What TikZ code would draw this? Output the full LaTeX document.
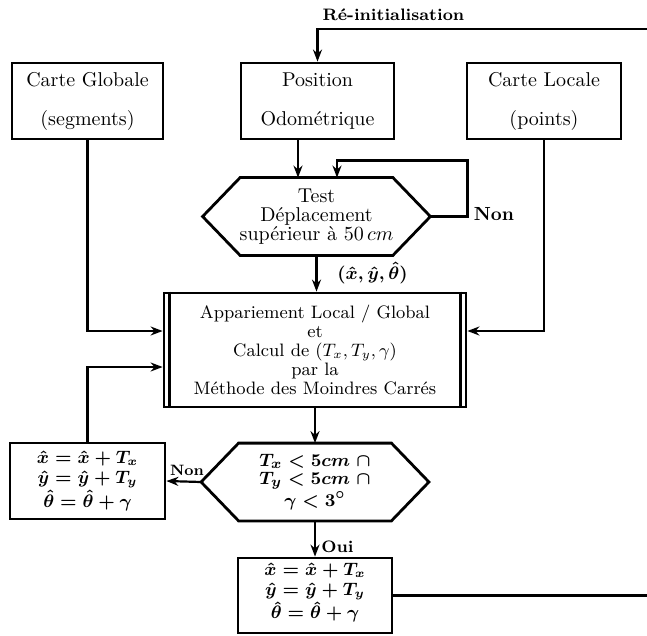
\documentclass[tikz,border=0pt]{standalone}
\usetikzlibrary{calc,arrows.meta}
\begin{document}
\begin{tikzpicture}[x=0.5pt,y=-0.5pt,
  box/.style={draw,line width=1.4pt,inner sep=0pt,align=center,font=\fontsize{10}{12}\selectfont},
  conn/.style={line width=1.1pt},
  arr/.style={conn,-{Stealth[length=6pt,width=4.5pt]}},
  lbl/.style={font=\fontsize{8.3}{10}\selectfont\bfseries,inner sep=0pt},
  hexa/.style={inner sep=0pt,align=center,minimum width=113.5pt,minimum height=38.5pt,font=\fontsize{10}{9.5}\selectfont},
  hexline/.style={line width=1.4pt,line join=miter},
  formula/.style={box,font=\fontsize{9.2}{10}\selectfont\boldmath},
  formtext/.style={inner sep=0pt,align=center,font=\fontsize{9.2}{10}\selectfont\boldmath}]
\useasboundingbox (0,0) rectangle (647,636);

% top boxes
\node[box,minimum width=75.5pt,minimum height=38pt] (cg) at (87.5,101) {Carte Globale\\[7.5pt](segments)};
\node[box,minimum width=76.5pt,minimum height=38pt] (pos) at (317.5,101) {Position\\[7.5pt]Odom\'etrique};
\node[box,minimum width=77pt,minimum height=38pt] (cl) at (544,101) {Carte Locale\\[7.5pt](points)};

% test hexagon 1
\node[hexa] (t1) at (316.5,216.5) {Test\\D\'eplacement\\sup\'erieur \`a 50\,$cm$};
\draw[hexline] (t1.west) -- ($(t1.north west)+(37.5,0)$) -- ($(t1.north east)+(-37.5,0)$) -- (t1.east) -- ($(t1.south east)+(-37.5,0)$) -- ($(t1.south west)+(37.5,0)$) -- cycle;

% matching box
\node[box,minimum width=151pt,minimum height=57pt,font=\fontsize{9}{9.5}\selectfont] (ap) at (315,350) {Appariement Local / Global\\et\\Calcul de $(T_x, T_y, \gamma)$\\par la\\M\'ethode des Moindres Carr\'es};
\draw[line width=1.4pt] ($(ap.north west)+(7,0)$) -- ($(ap.south west)+(7,0)$);
\draw[line width=1.4pt] ($(ap.north east)+(-7,0)$) -- ($(ap.south east)+(-7,0)$);

% test hexagon 2
\node[hexa,font=\fontsize{9.5}{9}\selectfont\boldmath] (t2) at (315,482) {$T_x < 5cm\ \cap$\\$T_y < 5cm\ \cap$\\$\gamma < 3^{\circ}$};
\draw[hexline] (t2.west) -- ($(t2.north west)+(37.5,0)$) -- ($(t2.north east)+(-37.5,0)$) -- (t2.east) -- ($(t2.south east)+(-37.5,0)$) -- ($(t2.south west)+(37.5,0)$) -- cycle;

% formula boxes
\node[formula,minimum width=77.5pt,minimum height=38pt] (lb) at (87.5,481) {$\hat{x} = \hat{x} + T_x$\\$\hat{y} = \hat{y} + T_y$\\$\hat{\theta} = \hat{\theta} + \gamma$};
\node[box,minimum width=77pt,minimum height=37.5pt] (bb) at (315,595.5) {};
\node[formtext] (bbt) at ($(bb.center)+(0,-3)$) {$\hat{x} = \hat{x} + T_x$\\$\hat{y} = \hat{y} + T_y$\\$\hat{\theta} = \hat{\theta} + \gamma$};

% connectors
\coordinate (r1) at (647,29);
\draw[arr] (r1) -| (pos.north);
\node[lbl] (reinit) at (393.5,15) {R\'e-initialisation};

\draw[arr] (cg.south) |- ($(ap.west)+(0,-19)$);
\draw[arr] (cl.south) |- ($(ap.east)+(0,-19)$);

\draw[arr] ($(pos.south)+(-19.5,0)$) coordinate (p1) -- (p1 |- t1.north);
\draw[arr] (t1.east) -- ++(37,0) coordinate (lp) |- ($(t1.north)+(20.5,-17)$) coordinate (lq) -- (lq |- t1.north);
\node[lbl,anchor=west,font=\fontsize{9.5}{11}\selectfont\bfseries] (non1) at ($(lp)+(6,-2)$) {Non};

\draw[arr] (t1.south) -- (t1.south |- ap.north);
\node[anchor=west,inner sep=0pt,font=\fontsize{9}{10}\selectfont\boldmath] (xyt) at (337,273) {$(\hat{x}, \hat{y}, \hat{\theta})$};

\draw[arr] (ap.south) -- (ap.south |- t2.north);
\draw[arr] (t2.west) -- (lb.east);
\node[lbl,font=\fontsize{7.5}{8}\selectfont\bfseries] (non2) at (187,470) {Non};
\draw[arr] (lb.north) |- ($(ap.west)+(0,17)$);

\draw[arr] (t2.south) -- (t2.south |- bb.north);
\node[lbl,anchor=west] (oui) at (321,547) {Oui};

\coordinate (r2) at (647,0);
\draw[conn] (bb.east) -- (bb.east -| r2);
\end{tikzpicture}
\end{document}
